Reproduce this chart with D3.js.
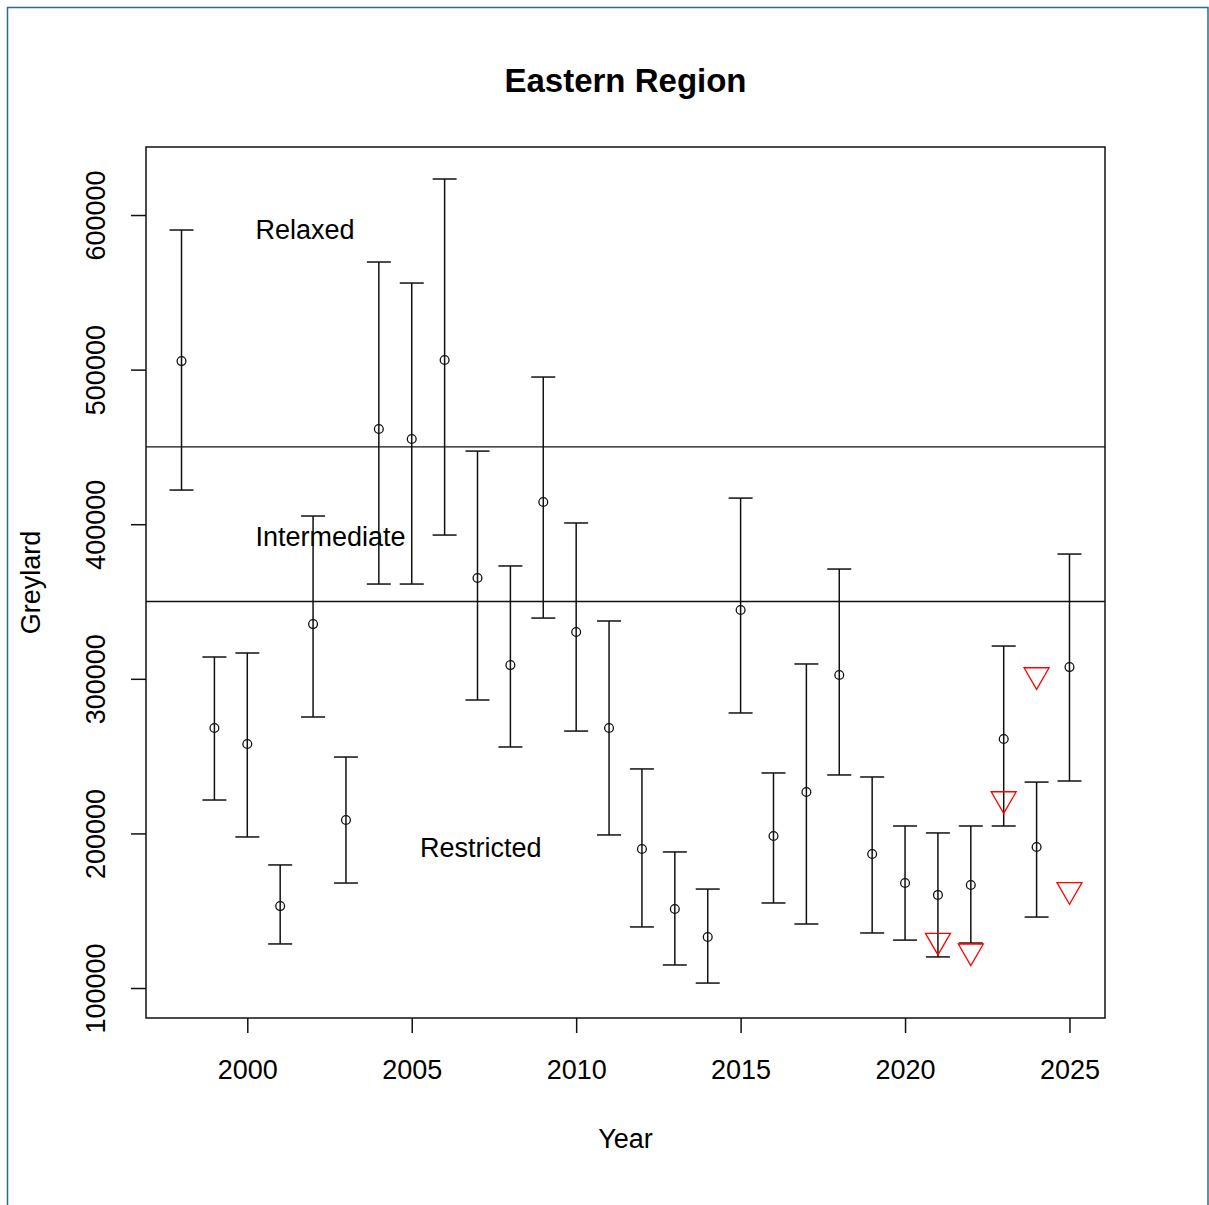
<!DOCTYPE html>
<html>
<head>
<meta charset="utf-8">
<script src="https://cdn.jsdelivr.net/npm/d3@7"></script>
<style>
  body { margin: 0; background: #fff; }
  text { font-family: "Liberation Sans", Arial, sans-serif; fill: #000; }
</style>
</head>
<body>
<div id="chart"></div>
<script>
// yearly estimates with lower / upper bounds
const years = d3.range(1998, 2026);
const estimate = [505500, 268200, 257800, 153000, 335400, 208700, 461600, 455100, 506200, 365200,
    308900, 414400, 330300, 268200, 189900, 151100, 133000, 344500, 198300, 226800,
    302500, 186700, 167900, 160200, 166600, 261100, 191200, 307600];
const upper = [590300, 314100, 316700, 179600, 405300, 249400, 569600, 556000, 623300, 447300,
    373000, 495200, 400800, 337400, 241700, 188000, 164000, 416900, 239100, 309600,
    371000, 236500, 204800, 200300, 204800, 321200, 233200, 380700];
const lower = [422100, 221600, 197700, 128500, 275300, 167900, 361300, 361300, 393000, 286300,
    255900, 339300, 266200, 199000, 139500, 114900, 103200, 277900, 155000, 141400,
    237800, 135600, 131000, 120100, 129100, 204800, 145900, 233900];

// red markers (recent years)
const markerYears = [2021, 2022, 2023, 2024, 2025];
const markerValues = [130700, 123800, 222300, 302500, 163500];

// threshold lines and zone labels
const thresholds = [450000, 350000];
const zoneNames = ["Relaxed", "Intermediate", "Restricted"];
const zoneX = [2000.25, 2000.25, 2005.25];
const zoneY = [590500, 392000, 191000];

const xTicks = [2000, 2005, 2010, 2015, 2020, 2025];
const yTicks = [100000, 200000, 300000, 400000, 500000, 600000];

const W = 1209, H = 1205;
const margin = {top: 147, right: 104, bottom: 187, left: 146};
const fs = 27;

const data = years.map((yr, i) => ({year: yr, est: estimate[i], lo: lower[i], hi: upper[i]}));
const markers = markerYears.map((yr, i) => ({year: yr, value: markerValues[i]}));

const svg = d3.select("#chart").append("svg")
    .attr("width", W)
    .attr("height", H);

svg.append("rect").attr("width", W).attr("height", H).attr("fill", "#fff");

// outer frame (bottom edge falls off the picture)
svg.append("rect")
    .attr("x", 7.5).attr("y", 7.5)
    .attr("width", 1200.5).attr("height", H + 20)
    .attr("fill", "none")
    .attr("stroke", "#2c6d8c")
    .attr("stroke-width", 1.5);

const x = d3.scaleLinear()
    .domain([1996.92, 2026.08])
    .range([margin.left, W - margin.right]);

const y = d3.scaleLinear()
    .domain([80600, 644000])
    .range([H - margin.bottom, margin.top]);

const ink = "#111";
const lw = 1.5;

// x axis
const xAxis = svg.append("g")
    .attr("transform", `translate(0,${H - margin.bottom})`)
    .call(d3.axisBottom(x).tickValues(xTicks).tickSize(15).tickPadding(27).tickFormat(d3.format("d")));
xAxis.select(".domain").remove();
xAxis.selectAll("line").attr("stroke", ink).attr("stroke-width", lw);
xAxis.selectAll("text").attr("font-size", fs).attr("font-family", "Liberation Sans, Arial").attr("fill", "#000");

// y axis, labels rotated like base R
const yAxis = svg.append("g")
    .attr("transform", `translate(${margin.left},0)`)
    .call(d3.axisLeft(y).tickValues(yTicks).tickSize(15).tickFormat(d3.format("d")));
yAxis.select(".domain").remove();
yAxis.selectAll("line").attr("stroke", ink).attr("stroke-width", lw);
yAxis.selectAll("text")
    .attr("font-size", fs)
    .attr("font-family", "Liberation Sans, Arial")
    .attr("fill", "#000")
    .attr("x", null).attr("dy", null)
    .attr("text-anchor", "middle")
    .attr("transform", `translate(${105 - margin.left},0) rotate(-90)`);

// plot box
svg.append("rect")
    .attr("x", margin.left).attr("y", margin.top)
    .attr("width", W - margin.left - margin.right)
    .attr("height", H - margin.top - margin.bottom)
    .attr("fill", "none")
    .attr("stroke", ink)
    .attr("stroke-width", lw);

// threshold lines
svg.append("g").selectAll("line")
    .data(thresholds)
    .join("line")
    .attr("x1", margin.left).attr("x2", W - margin.right)
    .attr("y1", d => y(d)).attr("y2", d => y(d))
    .attr("stroke", ink)
    .attr("stroke-width", 1.3);

// zone labels
svg.append("g").selectAll("text")
    .data(zoneNames)
    .join("text")
    .attr("x", (d, i) => x(zoneX[i]))
    .attr("y", (d, i) => y(zoneY[i]) + 9.5)
    .attr("font-size", fs)
    .text(d => d);

// error bars
const cap = 12;
const bars = svg.append("g")
    .attr("stroke", ink)
    .attr("stroke-width", lw)
    .attr("fill", "none");

bars.selectAll(".whisker")
    .data(data)
    .join("line")
    .attr("class", "whisker")
    .attr("x1", d => x(d.year)).attr("x2", d => x(d.year))
    .attr("y1", d => y(d.lo)).attr("y2", d => y(d.hi));

bars.selectAll(".capHi")
    .data(data)
    .join("line")
    .attr("class", "capHi")
    .attr("x1", d => x(d.year) - cap).attr("x2", d => x(d.year) + cap)
    .attr("y1", d => y(d.hi)).attr("y2", d => y(d.hi));

bars.selectAll(".capLo")
    .data(data)
    .join("line")
    .attr("class", "capLo")
    .attr("x1", d => x(d.year) - cap).attr("x2", d => x(d.year) + cap)
    .attr("y1", d => y(d.lo)).attr("y2", d => y(d.lo));

bars.selectAll("circle")
    .data(data)
    .join("circle")
    .attr("cx", d => x(d.year))
    .attr("cy", d => y(d.est))
    .attr("r", 4.4)
    .attr("fill", "none")
    .attr("stroke-width", 1.3);

// red down triangles
const tri = d => {
    const cx = x(d.year), cy = y(d.value);
    return `M${cx - 12.5},${cy - 7.2}L${cx + 12.5},${cy - 7.2}L${cx},${cy + 14.4}Z`;
};
svg.append("g").selectAll("path")
    .data(markers)
    .join("path")
    .attr("d", tri)
    .attr("fill", "none")
    .attr("stroke", "#ff0000")
    .attr("stroke-width", 1.3);

// titles
svg.append("text")
    .attr("x", (margin.left + W - margin.right) / 2)
    .attr("y", 92)
    .attr("text-anchor", "middle")
    .attr("font-size", 33)
    .attr("font-weight", "bold")
    .text("Eastern Region");

svg.append("text")
    .attr("x", (margin.left + W - margin.right) / 2)
    .attr("y", 1148)
    .attr("text-anchor", "middle")
    .attr("font-size", fs)
    .text("Year");

svg.append("text")
    .attr("transform", `translate(40,${(margin.top + H - margin.bottom) / 2}) rotate(-90)`)
    .attr("text-anchor", "middle")
    .attr("font-size", fs)
    .text("Greylard");
</script>
</body>
</html>
